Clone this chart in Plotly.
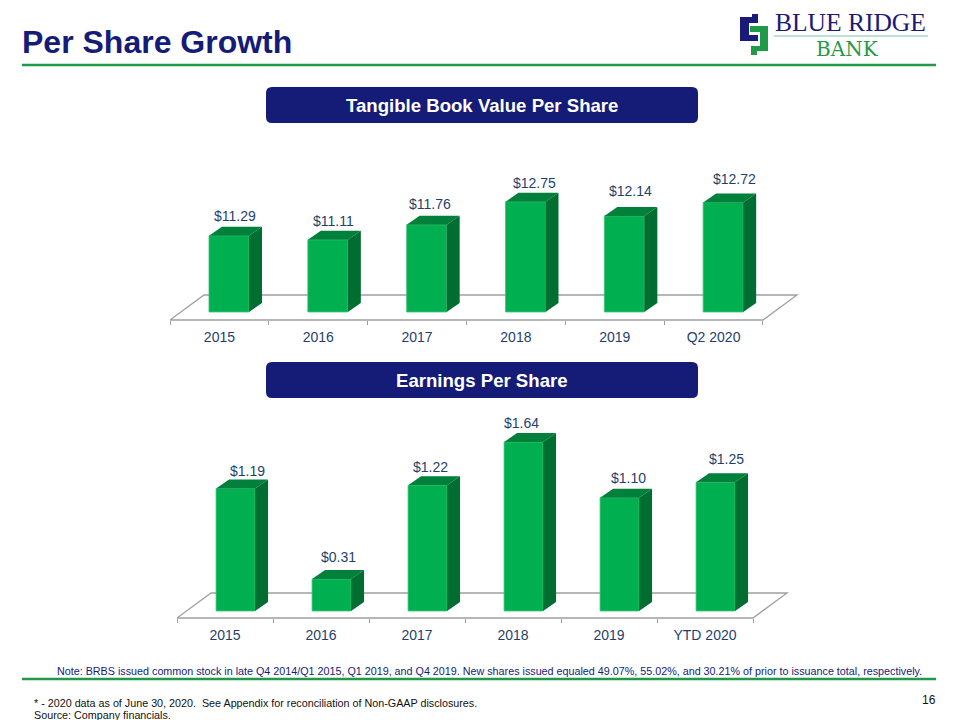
import plotly.graph_objects as go

tbv_labels = ["2015", "2016", "2017", "2018", "2019", "Q2 2020"]
tbv_values = [11.29, 11.11, 11.76, 12.75, 12.14, 12.72]
tbv_text = ["$11.29", "$11.11", "$11.76", "$12.75", "$12.14", "$12.72"]
tbv_label_dx = [16, 15, 13, 19, 16, 21]
tbv_label_dy = [20, 19, 21, 19, 25, 23]

eps_labels = ["2015", "2016", "2017", "2018", "2019", "YTD 2020"]
eps_values = [1.19, 0.31, 1.22, 1.64, 1.10, 1.25]
eps_text = ["$1.19", "$0.31", "$1.22", "$1.64", "$1.10", "$1.25"]
eps_label_dx = [22, 17, 13, 8, 19, 21]
eps_label_dy = [17, 22, 18, 19, 20, 23]

FRONT, TOP, SIDE = "#00B050", "#00803A", "#006E30"
EDGE = "#3CC47A"
TEXT = "#1F3F6E"
NAVY = "#141C78"
RULE = "#1F9A48"
GRAY = "#A0A0A0"
FONT = "Liberation Sans"
W, H = 960, 720

fig = go.Figure()
shapes, annos = [], []


def px(x):
    return x / W


def py(y):
    return 1 - y / H


def add_chart(suffix, labels, values, texts, ldx, ldy, left, cat_w, base_px, base_val,
              scale, front_px, top_px, bar_shift, bar_w):
    dxp, dyp = 13, 9
    bottom_px = front_px + 3
    right_px = left + cat_w * 6 + 37
    dx, dy = dxp / cat_w, dyp / scale
    ax_x, ax_y = "xaxis" + suffix, "yaxis" + suffix
    xr, yr = "x" + suffix, "y" + suffix
    fig.update_layout({
        ax_x: dict(
            domain=[px(left), px(right_px)],
            range=[-0.5, 5.5 + 37 / cat_w],
            anchor="free", position=py(front_px),
            tickmode="array", tickvals=list(range(len(labels))), ticktext=labels,
            ticks="", showgrid=False, zeroline=False, showline=False,
            ticklabelstandoff=7,
            tickfont=dict(family=FONT, size=14, color=TEXT),
            minor=dict(tickmode="array", tickvals=[i - 0.5 for i in range(len(labels) + 1)],
                       ticks="outside", ticklen=4, tickcolor=GRAY, tickwidth=1, showgrid=False),
        ),
        ax_y: dict(
            domain=[py(bottom_px), py(top_px)],
            range=[base_val - (bottom_px - base_px) / scale, base_val + (base_px - top_px) / scale],
            visible=False, showgrid=False, zeroline=False,
        ),
    })
    xs = list(range(len(values)))
    off = bar_shift - bar_w / 2
    fig.add_trace(go.Bar(
        x=xs, y=[v - base_val for v in values], base=base_val, width=bar_w, offset=off,
        marker=dict(color=FRONT, line=dict(color=EDGE, width=0.8)),
        xaxis=xr, yaxis=yr, showlegend=False, hoverinfo="skip",
    ))
    tx, ty, sx, sy = [], [], [], []
    for i, v in zip(xs, values):
        l, r = i + off, i + off + bar_w
        tx += [l, r, r + dx, l + dx, l, None]
        ty += [v, v, v + dy, v + dy, v, None]
        sx += [r, r + dx, r + dx, r, r, None]
        sy += [base_val, base_val + dy, v + dy, v, base_val, None]
    for a, b, c in ((tx, ty, TOP), (sx, sy, SIDE)):
        fig.add_trace(go.Scatter(
            x=a, y=b, mode="lines", fill="toself", fillcolor=c, line=dict(width=0, color=c),
            xaxis=xr, yaxis=yr, showlegend=False, hoverinfo="skip",
        ))
    # floor of the 3-D chart
    y_front = base_val - (front_px - base_px) / scale
    y_back = y_front + 25 / scale
    x0, x1 = -0.5, 5.5
    sh = 34 / cat_w
    shapes.append(dict(
        type="path", xref=xr, yref=yr, layer="below",
        path=f"M {x0} {y_front} L {x1} {y_front} L {x1 + sh} {y_back} L {x0 + sh} {y_back} Z",
        line=dict(color=GRAY, width=1.3), fillcolor="rgba(0,0,0,0)",
    ))
    for i, v in enumerate(values):
        annos.append(dict(
            x=i, y=v, xref=xr, yref=yr, text=texts[i], showarrow=False,
            xshift=ldx[i], yshift=ldy[i],
            font=dict(family=FONT, size=14, color=TEXT),
        ))


add_chart("", tbv_labels, tbv_values, tbv_text, tbv_label_dx, tbv_label_dy,
          170, 98.83, 312, 8.0, 23.2, 320, 165, 0.097, 0.405)
add_chart("2", eps_labels, eps_values, eps_text, eps_label_dx, eps_label_dy,
          177, 96.0, 611, 0.0, 103.0, 618, 425, 0.11, 0.406)


def text(x, y, s, size, color, bold=False, anchor="left", family=FONT):
    shift = {"left": -2, "right": 2, "center": 0}[anchor]
    annos.append(dict(
        x=px(x + shift), y=py(y), xref="paper", yref="paper", text=f"<b>{s}</b>" if bold else s,
        showarrow=False, xanchor=anchor, yanchor="middle",
        font=dict(family=family, size=size, color=color),
    ))


def rrect(x0, y0, x1, y1, r, color):
    X = px
    Y = py
    d = (f"M {X(x0 + r)} {Y(y0)} L {X(x1 - r)} {Y(y0)} Q {X(x1)} {Y(y0)} {X(x1)} {Y(y0 + r)} "
         f"L {X(x1)} {Y(y1 - r)} Q {X(x1)} {Y(y1)} {X(x1 - r)} {Y(y1)} "
         f"L {X(x0 + r)} {Y(y1)} Q {X(x0)} {Y(y1)} {X(x0)} {Y(y1 - r)} "
         f"L {X(x0)} {Y(y0 + r)} Q {X(x0)} {Y(y0)} {X(x0 + r)} {Y(y0)} Z")
    shapes.append(dict(type="path", xref="paper", yref="paper", path=d, fillcolor=color, line=dict(width=0)))


def poly(points, color):
    d = "M " + " L ".join(f"{px(a)} {py(b)}" for a, b in points) + " Z"
    shapes.append(dict(type="path", xref="paper", yref="paper", path=d, fillcolor=color, line=dict(width=0)))


def rule(x0, x1, y, color, width):
    shapes.append(dict(type="line", xref="paper", yref="paper", x0=px(x0), x1=px(x1), y0=py(y), y1=py(y),
                       line=dict(color=color, width=width)))


rule(22, 936, 65, RULE, 2.5)
rule(22, 936, 679, RULE, 2.5)
rrect(266, 87, 698, 123, 6, NAVY)
rrect(266, 362, 698, 398, 6, NAVY)

text(22, 42, "Per Share Growth", 32, NAVY, bold=True)
text(482, 105.5, "Tangible Book Value Per Share", 18.6, "#FFFFFF", bold=True, anchor="center")
text(482, 380.5, "Earnings Per Share", 18.6, "#FFFFFF", bold=True, anchor="center")
text(57, 671, "Note: BRBS issued common stock in late Q4 2014/Q1 2015, Q1 2019, and Q4 2019. New shares issued equaled "
     "49.07%, 55.02%, and 30.21% of prior to issuance total, respectively.", 10.75, NAVY)
text(34, 703, "* - 2020 data as of June 30, 2020.  See Appendix for reconciliation of Non-GAAP disclosures.", 10.75, "#111111")
text(34, 715, "Source: Company financials.", 10.75, "#111111")
text(936, 700, "16", 12, "#111111", anchor="right")

# logo
poly([(740, 17), (752, 17), (752, 14), (758, 14), (758, 23), (749, 23), (749, 35), (758, 35), (758, 41), (740, 41)], "#1A1A78")
poly([(750, 26), (768, 26), (768, 51), (757, 51), (757, 55), (751, 55), (751, 46), (760, 46), (760, 32), (750, 32)], "#1F9A48")
text(775, 22.5, "BLUE RIDGE", 25.5, "#1A1A78", family="Liberation Serif")
rule(774, 928, 36, "#5DB58A", 0.8)
text(847, 49, "BANK", 20, "#1F9A48", anchor="center", family="DejaVu Serif")

fig.update_layout(
    width=W, height=H, margin=dict(l=0, r=0, t=0, b=0), autosize=False,
    paper_bgcolor="#FFFFFF", plot_bgcolor="rgba(0,0,0,0)",
    shapes=shapes, annotations=annos, showlegend=False, barmode="overlay",
)
fig.write_html("out.html", config={"displayModeBar": False}, post_script="document.body.style.margin='0';")
